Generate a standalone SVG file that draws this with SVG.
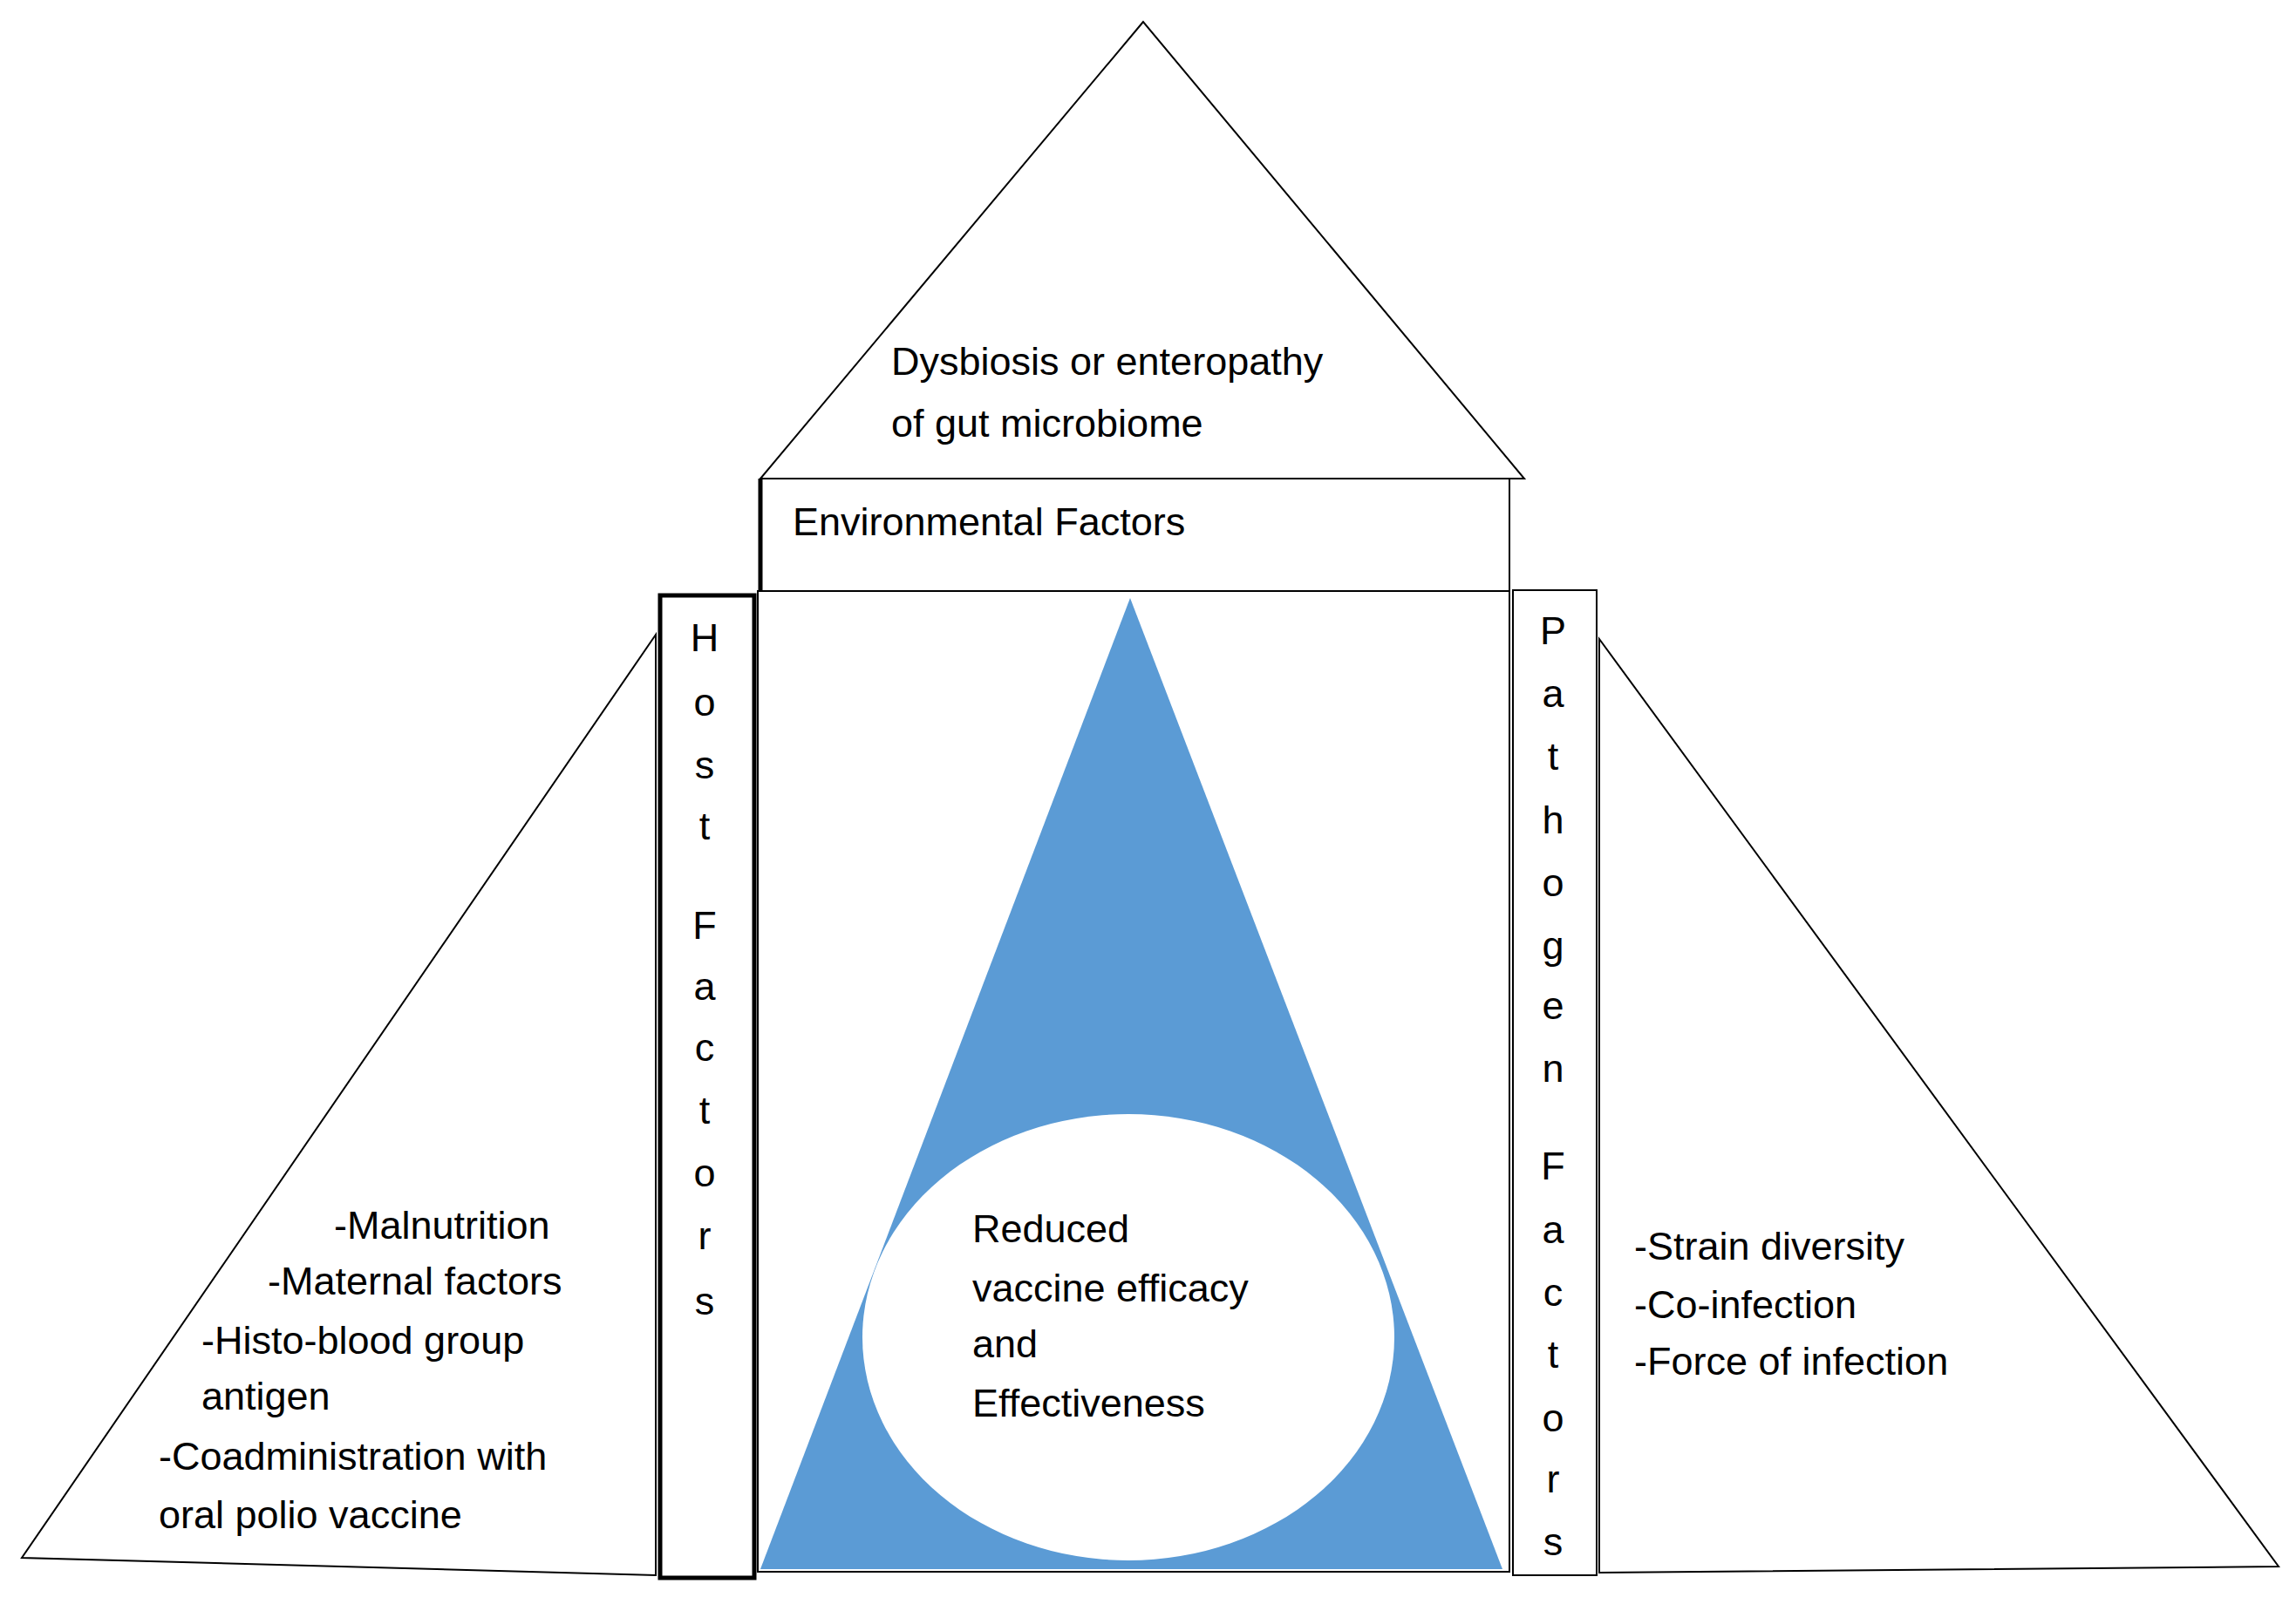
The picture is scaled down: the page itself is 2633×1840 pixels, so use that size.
<svg xmlns="http://www.w3.org/2000/svg" width="2633" height="1840" viewBox="0 0 2633 1840">
<style>
.o{fill:#fff;stroke:#000;stroke-width:2}
.b{fill:#fff;stroke:#000;stroke-width:5}
text{font-family:"Liberation Sans",Arial,sans-serif;font-size:45px;fill:#000;dominant-baseline:central}
.v{text-anchor:middle}
</style>
<rect width="2633" height="1840" fill="#fff"/>
<g id="top"><polygon class="o" points="1311,25 872,549 1748,549"/>
<text x="1022" y="414">Dysbiosis or enteropathy</text><text x="1022" y="485">of gut microbiome</text></g>
<g id="env"><rect class="o" x="872" y="549" width="859" height="129"/><line x1="872" y1="549" x2="872" y2="678" stroke="#000" stroke-width="5"/>
<text x="909" y="598">Environmental Factors</text></g>
<g id="left"><polygon class="o" points="752,728 25,1787 752,1807"/>
<text x="383" y="1405">-Malnutrition</text><text x="307" y="1469">-Maternal factors</text><text x="231" y="1537">-Histo-blood group</text><text x="231" y="1601">antigen</text><text x="182" y="1670">-Coadministration with</text><text x="182" y="1737">oral polio vaccine</text></g>
<g id="right"><polygon class="o" points="1834,733 1834,1804 2613,1797"/>
<text x="1874" y="1429">-Strain diversity</text><text x="1874" y="1496">-Co-infection</text><text x="1874" y="1561">-Force of infection</text></g>
<g id="center"><rect class="o" x="869" y="678" width="862" height="1125"/>
<polygon points="1296,686 872,1800 1723,1800" fill="#5B9BD5"/>
<ellipse cx="1294" cy="1534" rx="305" ry="256" fill="#fff"/>
<text x="1115" y="1409">Reduced</text><text x="1115" y="1477">vaccine efficacy</text><text x="1115" y="1541">and</text><text x="1115" y="1609">Effectiveness</text></g>
<g id="host"><rect class="b" x="757" y="683" width="108" height="1127"/>
<text class="v" x="808" y="731">H</text><text class="v" x="808" y="805">o</text><text class="v" x="808" y="877">s</text><text class="v" x="808" y="947">t</text><text class="v" x="808" y="1061">F</text><text class="v" x="808" y="1131">a</text><text class="v" x="808" y="1201">c</text><text class="v" x="808" y="1273">t</text><text class="v" x="808" y="1345">o</text><text class="v" x="808" y="1417">r</text><text class="v" x="808" y="1492">s</text></g>
<g id="pathogen"><rect class="o" x="1735" y="677" width="96" height="1130" stroke-width="3"/>
<text class="v" x="1781" y="723">P</text><text class="v" x="1781" y="795">a</text><text class="v" x="1781" y="867">t</text><text class="v" x="1781" y="940">h</text><text class="v" x="1781" y="1012">o</text><text class="v" x="1781" y="1084">g</text><text class="v" x="1781" y="1153">e</text><text class="v" x="1781" y="1225">n</text><text class="v" x="1781" y="1337">F</text><text class="v" x="1781" y="1410">a</text><text class="v" x="1781" y="1482">c</text><text class="v" x="1781" y="1553">t</text><text class="v" x="1781" y="1626">o</text><text class="v" x="1781" y="1696">r</text><text class="v" x="1781" y="1768">s</text></g>
<g id="connectors"/>
</svg>
